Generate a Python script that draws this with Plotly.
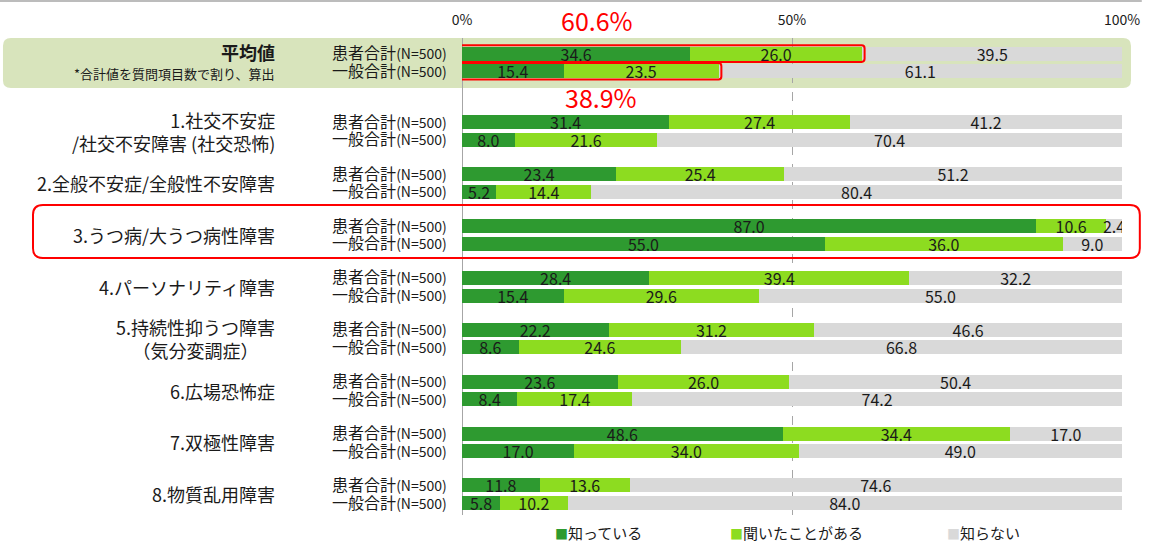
import plotly.graph_objects as go

# ---------------- data ----------------
groups = ["平均値", "1.社交不安症<br>/社交不安障害 (社交恐怖)", "2.全般不安症/全般性不安障害",
          "3.うつ病/大うつ病性障害", "4.パーソナリティ障害", "5.持続性抑うつ障害<br>（気分変調症）",
          "6.広場恐怖症", "7.双極性障害", "8.物質乱用障害"]
row_labels = ["患者合計", "一般合計"]
n_label = "(N=500)"
series_names = ["知っている", "聞いたことがある", "知らない"]

patient_know = [34.6, 31.4, 23.4, 87.0, 28.4, 22.2, 23.6, 48.6, 11.8]
patient_heard = [26.0, 27.4, 25.4, 10.6, 39.4, 31.2, 26.0, 34.4, 13.6]
patient_unknown = [39.5, 41.2, 51.2, 2.4, 32.2, 46.6, 50.4, 17.0, 74.6]
general_know = [15.4, 8.0, 5.2, 55.0, 15.4, 8.6, 8.4, 17.0, 5.8]
general_heard = [23.5, 21.6, 14.4, 36.0, 29.6, 24.6, 17.4, 34.0, 10.2]
general_unknown = [61.1, 70.4, 80.4, 9.0, 55.0, 66.8, 74.2, 49.0, 84.0]

avg_patient_total = "60.6%"
avg_general_total = "38.9%"
avg_note = "*合計値を質問項目数で割り、算出"
x_ticks = [0, 50, 100]
x_tick_text = ["0%", "50%", "100%"]

colors = ["#2e9a30", "#8ddc20", "#d9d9d9"]
FONT = "Noto Sans CJK JP, sans-serif"

# ---------------- layout helpers ----------------
def group_center(g):
    return 0.0 if g == 0 else g + 0.32

ROW_OFF = 0.17
y_pat = [group_center(g) - ROW_OFF for g in range(len(groups))]
y_gen = [group_center(g) + ROW_OFF for g in range(len(groups))]

fig = go.Figure()
pat_series = [patient_know, patient_heard, patient_unknown]
gen_series = [general_know, general_heard, general_unknown]
for i, name in enumerate(series_names):
    xs = pat_series[i] + gen_series[i]
    ys = y_pat + y_gen
    fig.add_trace(go.Bar(
        x=xs, y=ys, orientation="h", name=name,
        marker=dict(color=colors[i], line=dict(width=0)),
        width=0.27,
        text=[f"{v:.1f}" for v in xs], textposition="inside", textangle=0,
        insidetextanchor="middle",
        textfont=dict(family=FONT, size=16, color="#1a1a1a"),
        hoverinfo="skip", showlegend=False,
    ))

tickvals = []
ticktext = []
for g in range(len(groups)):
    for k, yy in enumerate([y_pat[g], y_gen[g]]):
        tickvals.append(yy)
        ticktext.append(f"{row_labels[k]}<span style='font-size:14px'>{n_label}</span>")


def rrect(x0, x1, y0, y1, rx, ry):
    return (f"M{x0+rx},{y0} L{x1-rx},{y0} Q{x1},{y0} {x1},{y0+ry} "
            f"L{x1},{y1-ry} Q{x1},{y1} {x1-rx},{y1} L{x0+rx},{y1} "
            f"Q{x0},{y1} {x0},{y1-ry} L{x0},{y0+ry} Q{x0},{y0} {x0+rx},{y0} Z")

shapes = []
# average band
shapes.append(dict(type="path", xref="paper", yref="y", layer="below",
                   path=rrect(-0.6955, 1.0136, -0.472, 0.491, 0.012, 0.15),
                   fillcolor="#d8e4bc", line=dict(width=0)))
# highlight rect around avg bars
tot_p = patient_know[0] + patient_heard[0]
tot_g = general_know[0] + general_heard[0]
shapes.append(dict(type="path", xref="x", yref="y", layer="above",
                   path=rrect(-0.4, tot_p + 0.4, y_pat[0] - 0.16, y_pat[0] + 0.16, 0.45, 0.06),
                   line=dict(color="#ff0000", width=2)))
shapes.append(dict(type="path", xref="x", yref="y", layer="above",
                   path=rrect(-0.4, tot_g + 0.4, y_gen[0] - 0.16, y_gen[0] + 0.16, 0.45, 0.06),
                   line=dict(color="#ff0000", width=2)))
# highlight rect around group 3
shapes.append(dict(type="path", xref="paper", yref="y", layer="above",
                   path=rrect(-0.65, 1.027, 2.746, 3.767, 0.015, 0.19),
                   line=dict(color="#ff0000", width=2)))
# top border line
shapes.append(dict(type="line", xref="paper", yref="paper", x0=-0.7, x1=1.03, y0=1.0776, y1=1.0776,
                   line=dict(color="#a6a6a6", width=1.5)))

annotations = []
LABEL_X = -0.2803
for g, name in enumerate(groups):
    if g == 0:
        annotations.append(dict(xref="paper", yref="y", x=LABEL_X, y=-0.2, text="<b>平均値</b>",
                                showarrow=False, xanchor="right", yanchor="middle",
                                font=dict(family=FONT, size=18, color="#1a1a1a")))
        annotations.append(dict(xref="paper", yref="y", x=LABEL_X, y=0.22, text=avg_note,
                                showarrow=False, xanchor="right", yanchor="middle",
                                font=dict(family=FONT, size=13, color="#1a1a1a")))
    else:
        annotations.append(dict(xref="paper", yref="y", x=LABEL_X, y=group_center(g), text=name,
                                showarrow=False, xanchor="right", yanchor="middle",
                                align="center" if g == 5 else "right",
                                font=dict(family=FONT, size=18, color="#1a1a1a")))
annotations.append(dict(xref="x", yref="paper", x=20.5, y=1.0377, text=avg_patient_total,
                        showarrow=False, xanchor="center", yanchor="middle",
                        font=dict(family=FONT, size=25, color="#ff0000")))
annotations.append(dict(xref="x", yref="y", x=21.0, y=0.665, text=avg_general_total,
                        showarrow=False, xanchor="center", yanchor="middle",
                        font=dict(family=FONT, size=25, color="#ff0000")))
# legend (drawn as text entries)
legend_x = [0.1380, 0.4030, 0.7318]
for i, name in enumerate(series_names):
    annotations.append(dict(xref="paper", yref="paper", x=legend_x[i], y=-0.036,
                            text=f"<span style='color:{colors[i]};font-size:13px'>■</span>{name}",
                            showarrow=False, xanchor="left", yanchor="middle",
                            font=dict(family=FONT, size=15, color="#1a1a1a")))

fig.update_layout(
    width=1150, height=543,
    margin=dict(l=462, r=28, t=38, b=28),
    barmode="stack", showlegend=False,
    paper_bgcolor="white", plot_bgcolor="rgba(0,0,0,0)",
    font=dict(family=FONT, size=15, color="#1a1a1a"),
    shapes=shapes, annotations=annotations,
    uniformtext=dict(minsize=16, mode="show"),
    xaxis=dict(range=[0, 100], side="top", tickvals=x_ticks, ticktext=x_tick_text,
               showgrid=True, gridcolor="#a6a6a6", griddash="dash", gridwidth=1,
               zeroline=True, zerolinecolor="#a6a6a6", zerolinewidth=1,
               ticks="outside", ticklen=6, tickcolor="rgba(0,0,0,0)", automargin=False,
               tickfont=dict(family=FONT, size=14, color="#1a1a1a"), fixedrange=True),
    yaxis=dict(range=[8.719, -0.472], tickvals=tickvals, ticktext=ticktext,
               showgrid=False, zeroline=False, ticks="outside", ticklen=11,
               tickcolor="rgba(0,0,0,0)", automargin=False,
               tickfont=dict(family=FONT, size=16, color="#1a1a1a"), fixedrange=True),
)

fig.write_html("out.html", config={"displayModeBar": False},
               post_script="document.body.style.margin='0';")
